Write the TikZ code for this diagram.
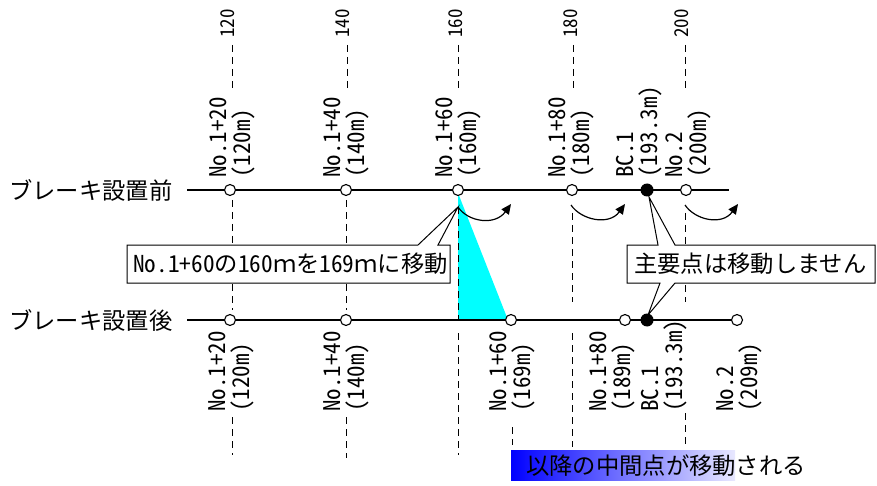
\documentclass[tikz,border=0pt]{standalone}
\usepackage{fontspec}
\newfontfamily\jp[RawFeature=+hwid]{Noto Sans CJK JP}
\newfontfamily\jpf{Noto Sans CJK JP}
\usetikzlibrary{arrows.meta}
\definecolor{cy}{RGB}{0,255,255}
\definecolor{bandlight}{RGB}{232,232,255}
\definecolor{bandblue}{RGB}{0,0,255}
\begin{document}
\begin{tikzpicture}[x=1pt,y=-1pt,
  pt/.style={circle,draw,fill=white,line width=1.1pt,inner sep=0pt,minimum size=11pt},
  bcpt/.style={circle,fill=black,inner sep=0pt,minimum size=13pt},
  lab/.style={rotate=90,align=left,anchor=west,font=\jp\fontsize{23}{24}\selectfont,inner sep=0pt},
  num/.style={rotate=90,anchor=west,font=\jp\fontsize{19}{19}\selectfont,inner sep=0pt},
  dsh/.style={dash pattern=on 7pt off 5pt,line width=1pt},
  mainline/.style={line width=1.3pt},
  jtext/.style={font=\jp\fontsize{23.3}{24}\selectfont,inner sep=0pt,anchor=west},
  callout/.style={draw,fill=white,line width=1pt},
  mv/.style={line width=1.2pt,-{Triangle[length=10pt,width=9pt,fill=black]}}]
\useasboundingbox (0,0) rectangle (877,486);

% cyan triangle
\fill[cy] (458,193) -- (458,320) -- (508,320) -- cycle;

% top dashed segments
\coordinate (a120) at (232,45);  \coordinate (b120) at (232,88);
\coordinate (a140) at (347,45);  \coordinate (b140) at (347,88);
\coordinate (a160) at (458,45);  \coordinate (b160) at (458,88);
\coordinate (a180) at (573,45);  \coordinate (b180) at (573,88);
\coordinate (a200) at (685,45);  \coordinate (b200) at (685,88);
\draw[dsh] (a120) -- (b120);
\draw[dsh] (a140) -- (b140);
\draw[dsh] (a160) -- (b160);
\draw[dsh] (a180) -- (b180);
\draw[dsh] (a200) -- (b200);

% middle dashed
\coordinate (m120a) at (232,200); \coordinate (m120b) at (232,310);
\coordinate (m140a) at (346,200); \coordinate (m140b) at (346,310);
\coordinate (m160a) at (458,207); \coordinate (m160b) at (458,320);
\coordinate (m180a) at (572,213); \coordinate (m180b) at (572,302);
\coordinate (m200a) at (685,213); \coordinate (m200b) at (685,302);
\draw[dsh] (m120a) -- (m120b);
\draw[dsh] (m140a) -- (m140b);
\draw[dsh] (m160a) -- (m160b);
\draw[dsh] (m180a) -- (m180b);
\draw[dsh] (m200a) -- (m200b);

% bottom dashed
\coordinate (d1a) at (232,417); \coordinate (d1b) at (232,455);
\coordinate (d2a) at (346,417); \coordinate (d2b) at (346,458);
\coordinate (d3a) at (458,333); \coordinate (d3b) at (458,455);
\coordinate (d4a) at (512,427); \coordinate (d4b) at (512,445);
\coordinate (d5a) at (572,333); \coordinate (d5b) at (572,447);
\coordinate (d6a) at (685,413); \coordinate (d6b) at (685,447);
\draw[dsh] (d1a) -- (d1b);
\draw[dsh] (d2a) -- (d2b);
\draw[dsh] (d3a) -- (d3b);
\draw[dsh] (d4a) -- (d4b);
\draw[dsh] (d5a) -- (d5b);
\draw[dsh] (d6a) -- (d6b);

% callouts
\draw[callout] (127,245) -- (418,245) -- (458,207) -- (438,245) -- (450,245)
  -- (450,283) -- (127,283) -- cycle;
\node[jtext] (c1) at (133,264) {No.1+60の160{\jpf ｍ}を169{\jpf ｍ}に移動};
\draw[callout] (627,245) -- (658,245) -- (649,197) -- (675,245) -- (875,245)
  -- (875,283) -- (675,283) -- (648,315) -- (660,283) -- (627,283) -- cycle;
\node[jtext] (c2) at (634,264) {主要点は移動しません};

% main lines
\coordinate (ls1) at (187,190); \coordinate (le1) at (729,190);
\coordinate (ls2) at (187,320);
\draw[mainline] (ls1) -- (le1);
\node[pt] (q209) at (737,320) {};
\draw[mainline] (ls2) -- (q209);

% left labels
\node[jtext] (before) at (9,190) {ブレーキ設置前};
\node[jtext] (after) at (9,320) {ブレーキ設置後};

% top nodes
\node[pt] (p120) at (230,190) {};
\node[pt] (p140) at (346,190) {};
\node[pt] (p160) at (458,190) {};
\node[pt] (p180) at (572,190) {};
\node[bcpt] (pbc) at (647,190) {};
\node[pt] (p200) at (686,190) {};

% bottom nodes
\node[pt] (q120) at (230,320) {};
\node[pt] (q140) at (346,320) {};
\node[pt] (q169) at (511,320) {};
\node[pt] (q189) at (625,320) {};
\node[bcpt] (qbc) at (647,320) {};

% top numbers
\node[num] (n120) at (228,38) {120};
\node[num] (n140) at (343,38) {140};
\node[num] (n160) at (456,38) {160};
\node[num] (n180) at (571,38) {180};
\node[num] (n200) at (682,38) {200};

% top labels
\node[lab] (t120) at (232,178) {No.1+20\\(120m)};
\node[lab] (t140) at (346,178) {No.1+40\\(140m)};
\node[lab] (t160) at (458,178) {No.1+60\\(160m)};
\node[lab] (t180) at (571,178) {No.1+80\\(180m)};
\node[lab] (tbc) at (639,178) {BC.1\\(193.3m)};
\node[lab] (t200) at (688,178) {No.2\\(200m)};

% bottom labels
\node[lab] (u120) at (231,412) {No.1+20\\(120m)};
\node[lab] (u140) at (346,412) {No.1+40\\(140m)};
\node[lab] (u169) at (512,412) {No.1+60\\(169m)};
\node[lab] (u189) at (612,412) {No.1+80\\(189m)};
\node[lab] (ubc) at (664,412) {BC.1\\(193.3m)};
\node[lab] (u209) at (739,412) {No.2\\(209m)};

% move arrows
\coordinate (r1a) at (458,207); \coordinate (r1b) at (511,204);
\coordinate (r2a) at (571,205); \coordinate (r2b) at (625,204);
\coordinate (r3a) at (685,205); \coordinate (r3b) at (738,204);
\draw[mv] (r1a) .. controls (468,222) and (495,226) .. (r1b);
\draw[mv] (r2a) .. controls (581,220) and (609,226) .. (r2b);
\draw[mv] (r3a) .. controls (695,220) and (722,226) .. (r3b);

% gradient band
\shade[left color=bandblue, right color=bandlight] (511,450) rectangle (735,480);
\node[jtext] (band) at (526,466) {以降の中間点が移動される};
\end{tikzpicture}
\end{document}
